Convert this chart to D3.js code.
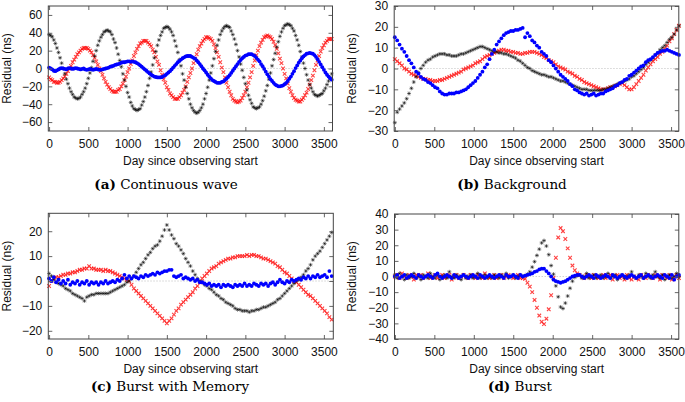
<!DOCTYPE html>
<html>
<head>
<meta charset="utf-8">
<script src="https://cdn.jsdelivr.net/npm/d3@7"></script>
<style>
  body { margin: 0; background: #fff; }
</style>
</head>
<body>
<script>
const contBlack = [38,37,35.5,32,28,23,18,12,6,0,-6,-12,-17,-22,-26,-29,-32,-33,-34,-33.5,
  -32,-29,-26,-22,-17,-11,-5,1,8,14,20,26,31,35,38,41,42,43,42,41,
  38,33,29,23,16,9,2,-6,-13,-20,-27,-32,-38,-42,-45,-46,-47,-46,-45,-41,
  -37,-32,-26,-19,-11,-4,4,12,19,26,32,37,41,45,46,47,46,44,41,37,
  31,25,18,10,3,-6,-13,-21,-28,-34,-40,-44,-47,-49,-50,-49,-47,-44,-40,-34,
  -28,-21,-13,-5,3,11,19,26,32,38,42,45,47,48,47,46,42,38,33,27,
  20,13,5,-2,-10,-17,-24,-30,-35,-39,-43,-44,-45,-44,-43,-40,-36,-31,-25,-19,
  -12,-5,3,10,17,24,30,36,41,45,48,49,50,49,48,45,42,37,32,26,
  19,13,6,0,-7,-13,-18,-22,-26,-29,-30,-31,-30,-29,-28,-25,-22,-18,-14,-10,-6];
const contRed = [-10,-12,-13,-15,-15,-16,-16,-15,-13,-11,-9,-6,-3,0,3,7,10,13,16,18,
  20,22,23,23,23,22,20,18,15,12,8,4,0,-3,-7,-11,-15,-18,-21,-23,
  -25,-26,-26,-26,-24,-23,-20,-17,-13,-9,-4,0,5,9,14,18,22,25,28,29,
  31,31,31,29,27,25,21,18,13,8,4,-2,-7,-12,-16,-21,-24,-28,-30,-32,
  -34,-34,-34,-32,-30,-27,-24,-20,-15,-10,-5,0,6,11,16,21,25,28,31,33,
  35,35,34,33,31,27,23,18,13,7,1,-4,-10,-16,-21,-26,-30,-34,-36,-37,
  -38,-37,-36,-33,-30,-26,-21,-16,-10,-4,3,9,15,20,25,29,32,35,36,37,
  36,35,33,30,26,22,17,11,6,0,-6,-11,-17,-22,-26,-30,-33,-35,-36,-37,
  -37,-35,-33,-30,-27,-23,-18,-13,-8,-2,4,9,14,19,23,26,29,31,33,33,33];
const contBlue = [1,0,-1,-2.5,-3,-2,-1,0,0.5,0,-0.5,-1,0,0.5,0,-0.5,0,0.5,0,-0.5,
  -1,-0.5,0,-1,-1.5,-1,-0.5,-1,-1.5,-1,-0.5,-1,-1.5,-1.5,-1,-0.5,0,0.5,1,2,
  2.5,3,4,4.5,5,5.5,6.5,7,7,7.5,8,8,7.5,8,7.5,7,6,5,3.5,2,
  0.5,-1,-2.5,-4,-5.5,-7,-8,-9,-9.5,-10,-10,-10,-9.5,-8.5,-7.5,-6,-4.5,-3,-1,1,
  3,5,7,8.5,10,11.5,12.5,13.5,14,14,14,13,12,11,9,7,5,2.5,0,-2,
  -4.5,-7,-9,-11,-13,-14,-15,-16,-16,-16,-15,-14.5,-13,-11.5,-9.5,-7.5,-5,-2.5,0,2.5,
  5,7.5,9.5,11.5,13,14.5,15,16,16,16,15,14,12,10,8,5,2.5,-0.5,-3.5,-6.5,
  -9,-12,-14,-16,-18,-19,-20,-20,-19.5,-19,-17.5,-16,-14,-11.5,-9,-6,-3,0.5,3.5,6.5,
  9,11.5,13.5,15,16.5,17,17.5,17,16.5,15,13,10.5,7.5,4.5,1.5,-1.5,-4.5,-7,-9,-11,-12.5];

const bgBlack = [-26,-21,-19.5,-18,-16.5,-14.5,-12,-9.5,-6.5,-4,
  -2,0,1.5,3,4,4.5,5.5,6,6.5,7,
  7,7,6.5,6.5,6,6,6,6.5,7,7,
  7.5,8,8.5,9,9.5,10,10.5,10.5,10,9.5,
  9,8.5,8,8,7.5,7.5,7,7,6.5,6,
  5.5,5,4,3.5,2.5,1.5,0.5,0,-1,-1.5,
  -2,-2.5,-3,-3,-3.5,-4,-4,-4.5,-5,-5.5,
  -6,-6,-6.5,-7,-7.5,-8,-8.5,-9,-9.5,-10,
  -10,-10,-10.5,-10.5,-10.5,-10.5,-10.5,-10.5,-10,-10,
  -9.5,-9,-8.5,-8,-7.5,-7,-6.5,-6,-5.5,-5,
  -4,-3.5,-2.5,-1.5,-0.5,0.5,2,3,4,5,
  6.5,7.5,9,10,11,12.5,14,15,16.5,18.5,
  20.5];
const bgRed = [4.5,3.5,2.5,1.5,0,-0.5,-1.5,-2.5,-3,-3.5,
  -4,-4.5,-5,-5,-5.5,-5.5,-6,-6,-6,-5.5,
  -5.5,-5,-4.5,-4,-3.5,-3,-2.5,-2,-1.5,-0.5,
  0,0.5,1,1.5,2.5,3,3.5,4.5,5.5,6,
  6.5,7,7.5,8,8.5,9,9,8.5,8.5,8,
  8,7.5,7.5,7,7,7.5,7.5,8,8,8,
  7.5,7,6.5,5.5,5,4,3.5,3,2,1,
  0.5,0,-0.5,-1.5,-2,-2.5,-3.5,-4,-5,-5.5,
  -6.5,-7,-7.5,-8,-8.5,-9,-9.5,-10,-10,-10,
  -9.5,-9,-9,-8.5,-8,-7.5,-7,-8,-9,-10,
  -10,-9,-7.5,-6,-4.5,-3,-1,0.5,2,3.5,
  4.5,5.5,7,8,9.5,11,13,14.5,16.5,18.5,
  20.5];
const bgBlue = [15,13.5,11.5,9.5,8,6,4,2.5,0.5,-1.5,
  -2.5,-4,-5,-5.5,-6.5,-7,-8,-9,-9.5,-11,
  -12,-12.5,-12.5,-12,-12,-12,-11.5,-11.5,-11,-10.5,
  -10,-9,-8,-7,-6,-4.5,-3,-1.5,0.5,2,
  4.5,7,9,11.5,13,14.5,16,17,17.5,18,
  18,18.5,18.5,19,19.5,15,17,15.5,13.5,12.5,
  11,10,8,7,6,4,3,1.5,0,-1.5,
  -3,-4,-5,-6,-7.5,-8.5,-10,-10.5,-11.5,-12,
  -12.5,-12,-13,-12.5,-12,-13,-12.5,-12,-12,-11,
  -10.5,-10,-9.5,-8.5,-8,-7,-6.5,-5.5,-5,-3.5,
  -3,-2,-1,0,1,1.5,3,4,4.5,5.5,
  6.5,7.5,8,8.5,8.5,9,8.5,8,7.5,7,
  6.5];

const bwmBlack = [3,2,0.5,-0.5,-1,-1.5,-2,-3,-3.5,-4,
  -5,-5.5,-6,-6.5,-7,-8,-6.5,-6,-5.5,-5.5,
  -5,-5,-5,-5,-5,-5,-4.5,-4,-3.5,-3,
  -2.5,-2,-1.5,-0.5,0,1,2,3.5,5,6.5,
  7.5,9,10.5,11.5,13,14,14.5,16,18,20.5,
  22.5,20.5,18.5,17,15,14,12.5,11,9,7.5,
  6,4,2.5,1,0,-0.5,-1.5,-2,-3,-3.5,
  -4.5,-5.5,-6,-7,-7.5,-8.5,-9,-9.5,-10,-11,
  -11.5,-11.5,-12,-12,-12,-12.5,-12,-12,-11.5,-11.5,
  -11,-10.5,-10.5,-10,-9.5,-9,-8.5,-7.5,-7,-6,
  -5,-4,-3,-2,-1,0,0.5,1.5,2.5,4,
  5,6.5,8.5,10,11,12,13.5,15,16.5,18,
  19.5];
const bwmRed = [-2,0,1,1.5,1.5,2,2.5,2.5,3,3,
  3.5,3.5,4,4.5,4.5,5,5,6,5,5,
  4.5,4.5,4.5,4,4.5,4,4,3.5,3,2.5,
  2,1.5,1,0.5,0,-1.5,-3,-4,-5,-6,
  -7,-8,-9,-10,-11,-12,-13,-14,-15,-16,
  -17,-16,-15,-13.5,-12,-11,-9.5,-8.5,-7.5,-6.5,
  -5.5,-4.5,-3,-2,-0.5,1,2,3,4,5,
  5.5,6,7,7.5,8,8.5,9,9,9.5,9.5,
  10,10,10,10,10.5,10,10.5,10.5,10,10,
  9.5,9,9,8.5,8,7.5,7,6,5.5,4.5,
  3.5,3,2,1,0,-0.5,-1.5,-2.5,-3.5,-4.5,
  -5.5,-6,-7,-8,-9,-10,-11,-12,-13,-14.5,
  -15.5];
const bwmBlue = [1,0,1.5,-0.5,0.5,-1,0,-1,0.5,-1.5,
  -0.5,-1,0,-1.5,-0.5,-1,0,-1.5,-0.5,-1,
  -0.5,-1.5,-0.5,-1,0,-1,-0.5,0,-0.5,0.5,
  0,1,2.5,1,2,1,2,1.5,1,2,
  1.5,2.5,2,2.5,3,2.5,3.5,3,3.5,4,
  4,4.5,4.5,2,1.5,2,2.5,1,1.5,1,
  0.5,1,0,0.5,-0.5,-0.5,-1,-1.5,-1,-2,
  -1.5,-2,-1.5,-2.5,-1.5,-2,-1.5,-2,-2.5,-1.5,
  -2,-1.5,-2,-1,-2,-1.5,-2,-1,-1.5,-2,
  -1,-1.5,-1,-2,-1,-0.5,-1.5,-0.5,0.5,-0.5,
  -1,0,-0.5,0.5,0,0.5,1,0.5,1.5,1,
  2,1,2,1.5,2.5,1.5,2,2.5,1.5,4,
  2];

const burstBlack = [1,-1,2,0,-2,1,-1,0,2,-1,
  0,-2,1,0,-1,2,0,-1,1,-2,
  0,1,-1,3,0,-1,1,0,-2,1,
  -1,0,1,-1,0,2,-1,0,1,-1,
  0,-1,1,0,-1,1,0,2,-1,0,
  1,-1,0,1,0,0.5,1.5,3,6,9.5,
  13.5,17.5,21.5,23,19.5,14,7,1.5,-6,-13,
  -19.5,-20.5,-17,-12.5,-7.5,-3,-0.5,0.5,1,-1,
  0,2,-1,0,1,-1,0,1,-1,0,
  2,-1,0,1,-2,0,1,-1,0,1,
  3,0,-1,1,0,-1,2,0,-1,1,
  3,0,-1,1,-2,0,1,-1,0,2,
  0];
const burstRed = [0,1,-1,2,0,-1,1,0,-2,1,
  0,1,-1,0,2,-1,0,1,-1,0,
  1,-1,0,1,-2,0,1,-1,0,1,
  0,-1,1,0,-1,1,0,-1,2,0,
  -1,0,1,-1,0,1,-1,0,1,0,
  -1,0,1,-1,-1,-1.5,-4,-6.5,-10,-15,
  -20,-25,-29,-30.5,-27,-21,-12,-1,12,25,
  31,29,24,18,12,7,4,2,1,0,
  -1,1,0,-1,1,0,-1,0,1,-1,
  0,1,-2,0,1,-1,0,-2,1,-1,
  -2,0,-1,-2,1,0,-1,1,0,-1,
  1,0,-2,1,0,-1,1,-2,0,1,
  -1];
const burstBlue = [0,1,-1,0,1,-1,0,1,0,-1,
  1,0,-1,0,1,0,-1,1,2,0,
  -1,0,1,0,-1,1,0,-1,0,1,
  0,-1,0,1,0,-1,1,0,-1,0,
  1,0,-1,0,1,0,-1,1,0,0,
  1,0,-1,1,0,0.5,1,1.5,2,3,
  3.5,4.5,5,5,3.5,2,0,-2,-3,-3.5,
  -4,-3.5,-3,-2,-1,0,0.5,1,1,0,
  -1,0,1,0,-1,1,0,-1,0,1,
  0,-1,1,0,-1,0,1,0,-1,0,
  1,0,-1,0,1,-1,0,1,0,-1,
  0,1,0,-1,1,0,-1,1,-2,0,
  1];

const dayTicks = [0, 500, 1000, 1500, 2000, 2500, 3000, 3500];
const yTicksA = [-60, -40, -20, 0, 20, 40, 60];
const yTicksB = [-30, -20, -10, 0, 10, 20, 30];
const yTicksC = [-20, -10, 0, 10, 20];
const yTicksD = [-40, -30, -20, -10, 0, 10, 20, 30, 40];

const W = 685, H = 402;
const SANS = '"Liberation Sans", Arial, sans-serif';
const SERIF = '"DejaVu Serif", serif';
const FS = '12px';

const panels = [
  {tag: '(a)', caption: 'Continuous wave', step: 20, black: contBlack, red: contRed, blue: contBlue,
   l: 48.3, r: 332.5, t: 6, b: 131, xd: [-10, 3610], yd: [-70, 70], yt: yTicksA, capX: 166, ytX: 11},
  {tag: '(b)', caption: 'Background', step: 30, black: bgBlack, red: bgRed, blue: bgBlue,
   l: 394.2, r: 678.8, t: 6, b: 131, xd: [-8, 3598], yd: [-30, 30], yt: yTicksB, capX: 512, ytX: 356},
  {tag: '(c)', caption: 'Burst with Memory', step: 30, black: bwmBlack, red: bwmRed, blue: bwmBlue,
   l: 48.3, r: 333.3, t: 213.3, b: 339, xd: [-10, 3620], yd: [-23.3, 27.2], yt: yTicksC, capX: 170, ytX: 11},
  {tag: '(d)', caption: 'Burst', step: 30, black: burstBlack, red: burstRed, blue: burstBlue,
   l: 394.5, r: 678.8, t: 214, b: 339, xd: [-5, 3598], yd: [-40, 40], yt: yTicksD, capX: 520, ytX: 356}
];

const svg = d3.select('body').append('svg')
  .attr('width', W).attr('height', H)
  .style('font-family', SANS);

const STAR = 'M-2,0H2M0,-2V2M-1.4,-1.4L1.4,1.4M-1.4,1.4L1.4,-1.4';
const CROSS = 'M-1.8,-1.8L1.8,1.8M-1.8,1.8L1.8,-1.8';

for (const p of panels) {
  const x = d3.scaleLinear().domain(p.xd).range([p.l, p.r]);
  const y = d3.scaleLinear().domain(p.yd).range([p.b, p.t]);
  const g = svg.append('g');

  // zero line
  g.append('line')
    .attr('x1', p.l).attr('x2', p.r)
    .attr('y1', y(0)).attr('y2', y(0))
    .attr('stroke', '#c8c8c8').attr('stroke-width', 0.8)
    .attr('stroke-dasharray', '1.5,1.5');

  const pts = arr => arr.map((v, i) => ({d: i * p.step, v}));

  g.append('g')
    .selectAll('path')
    .data(pts(p.red))
    .join('path')
    .attr('d', CROSS)
    .attr('transform', d => `translate(${x(d.d)},${y(d.v)})`)
    .attr('stroke', '#ff0000').attr('stroke-opacity', 0.75)
    .attr('stroke-width', 1.1).attr('fill', 'none');

  g.append('g')
    .selectAll('path')
    .data(pts(p.black))
    .join('path')
    .attr('d', STAR)
    .attr('transform', d => `translate(${x(d.d)},${y(d.v)})`)
    .attr('stroke', '#000').attr('stroke-opacity', 0.55)
    .attr('stroke-width', 0.9).attr('fill', 'none');

  g.append('g')
    .selectAll('circle')
    .data(pts(p.blue))
    .join('circle')
    .attr('cx', d => x(d.d)).attr('cy', d => y(d.v))
    .attr('r', 1.9)
    .attr('fill', '#0000ff');

  // axes, gnuplot style: inward ticks, mirrored
  const styleAxis = sel => {
    sel.select('.domain').remove();
    sel.selectAll('.tick line').attr('stroke', '#666');
    sel.selectAll('.tick text').attr('fill', '#111')
      .style('font-family', SANS).style('font-size', FS);
  };
  g.append('g').attr('transform', `translate(0,${p.b})`)
    .call(d3.axisBottom(x).tickValues(dayTicks).tickFormat(d3.format('d')).tickSize(-4).tickPadding(8.5))
    .call(styleAxis);
  g.append('g').attr('transform', `translate(0,${p.t})`)
    .call(d3.axisTop(x).tickValues(dayTicks).tickSize(-4).tickFormat(''))
    .call(styleAxis);
  g.append('g').attr('transform', `translate(${p.l},0)`)
    .call(d3.axisLeft(y).tickValues(p.yt).tickFormat(d3.format('d')).tickSize(-4).tickPadding(6))
    .call(styleAxis);
  g.append('g').attr('transform', `translate(${p.r},0)`)
    .call(d3.axisRight(y).tickValues(p.yt).tickSize(-4).tickFormat(''))
    .call(styleAxis);

  g.append('rect')
    .attr('x', p.l).attr('y', p.t)
    .attr('width', p.r - p.l).attr('height', p.b - p.t)
    .attr('fill', 'none').attr('stroke', '#444').attr('stroke-width', 1);

  g.append('text')
    .attr('x', (p.l + p.r) / 2).attr('y', p.b + 34)
    .attr('text-anchor', 'middle')
    .style('font-size', FS).attr('fill', '#111')
    .text('Day since observing start');

  g.append('text')
    .attr('transform', `translate(${p.ytX},${(p.t + p.b) / 2}) rotate(-90)`)
    .attr('text-anchor', 'middle')
    .style('font-size', FS).attr('fill', '#111')
    .text('Residual (ns)');

  const cap = g.append('text')
    .attr('x', p.capX).attr('y', p.t < 100 ? 189 : 391)
    .attr('text-anchor', 'middle')
    .style('font-family', SERIF).style('font-size', '13.5px').attr('fill', '#000');
  cap.append('tspan').attr('font-weight', 'bold').text(p.tag);
  cap.append('tspan').text(' ' + p.caption);
}
</script>
</body>
</html>
